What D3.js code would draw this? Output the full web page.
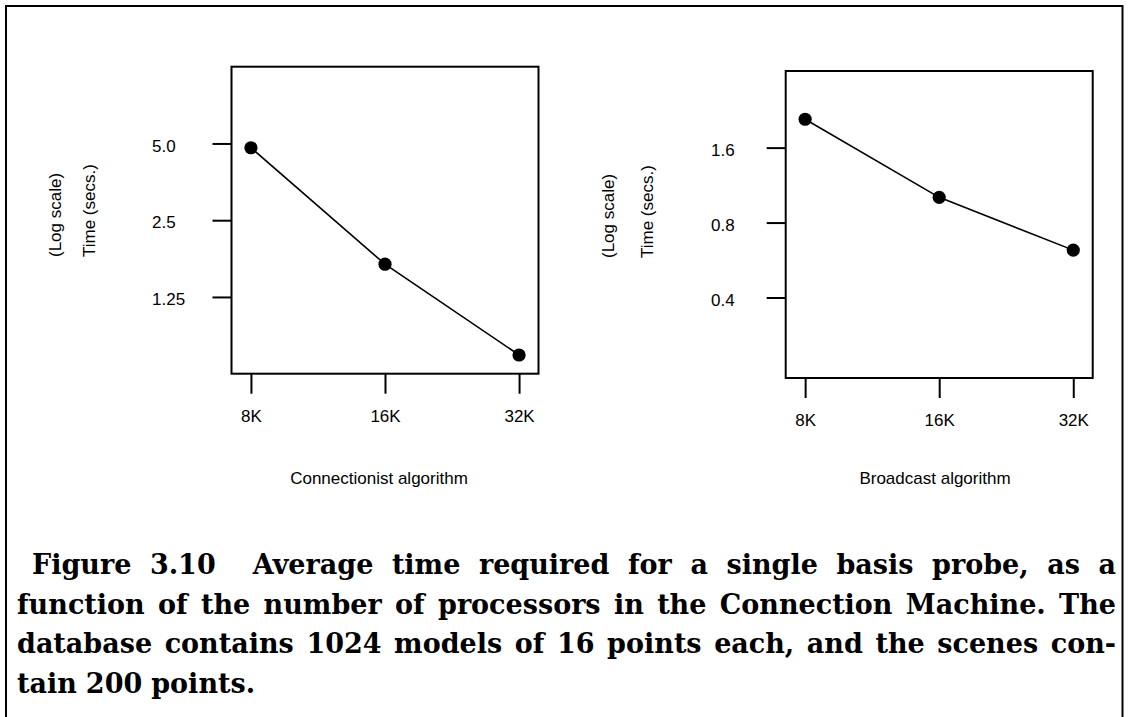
<!DOCTYPE html>
<html>
<head>
<meta charset="utf-8">
<script src="https://cdn.jsdelivr.net/npm/d3@7"></script>
<style>
  body { margin: 0; background: #fff; }
  svg { display: block; }
</style>
</head>
<body>
<script>
// processors (thousands) on the x axis
var procs = [8, 16, 32];
var procLabels = ["8K", "16K", "32K"];

// average time per basis probe, secs
var connTime = [4.81, 1.68, 0.74];
var bcastTime = [2.08, 1.01, 0.62];

// y tick values
var connTicks = [5.0, 2.5, 1.25];
var connTickLabels = ["5.0", "2.5", "1.25"];
var bcastTicks = [1.6, 0.8, 0.4];
var bcastTickLabels = ["1.6", "0.8", "0.4"];

var captionLines = [
  "Figure 3.10  Average time required for a single basis probe, as a",
  "function of the number of processors in the Connection Machine. The",
  "database contains 1024 models of 16 points each, and the scenes con-",
  "tain 200 points."
];

draw();
function draw(){
  var W = 1128, H = 717;
  var sans = "'Liberation Sans', Arial, Helvetica, sans-serif";
  var fs = "17px";

  var svg = d3.select("body").append("svg")
    .attr("width", W).attr("height", H);

  // outer frame (open at bottom)
  svg.append("path")
    .attr("d", "M6," + H + " V6 H1122.5 V" + H)
    .attr("fill", "none").attr("stroke", "#000").attr("stroke-width", 2);

  // panels
  drawPanel({
    x: 231.5, y: 66.7, size: 307,
    yDomain: [0.625, 10],
    times: connTime, ticks: connTicks, tickLabels: connTickLabels,
    labelX: 152, title1X: 60.5, title2X: 94.5, titleY: 257,
    xTitle: "Connectionist algorithm", xTitleX: 379
  });
  drawPanel({
    x: 785.7, y: 71, size: 307,
    yDomain: [0.19, 3.25],
    times: bcastTime, ticks: bcastTicks, tickLabels: bcastTickLabels,
    labelX: 711, title1X: 613.5, title2X: 652.5, titleY: 258,
    xTitle: "Broadcast algorithm", xTitleX: 935
  });

  function drawPanel(p){
    var g = svg.append("g");
    var pad = Math.pow(2, 0.145);
    var x = d3.scaleLog().base(2)
      .domain([procs[0] / pad, procs[procs.length - 1] * pad])
      .range([p.x, p.x + p.size]);
    var y = d3.scaleLog().base(2)
      .domain(p.yDomain)
      .range([p.y + p.size, p.y]);

    // y axis ticks
    var yAxis = d3.axisLeft(y)
      .tickValues(p.ticks)
      .tickFormat(function(d, i){ return p.tickLabels[i]; })
      .tickSize(19).tickSizeOuter(0);
    var ya = g.append("g")
      .attr("transform", "translate(" + p.x + ",0)")
      .call(yAxis);
    ya.select(".domain").remove();
    ya.selectAll("line").attr("stroke", "#000").attr("stroke-width", 2);
    ya.selectAll("text")
      .attr("text-anchor", "start")
      .attr("x", p.labelX - p.x)
      .attr("dy", "0.45em")
      .style("font-family", sans).style("font-size", fs).attr("fill", "#000");

    // x axis ticks
    var xAxis = d3.axisBottom(x)
      .tickValues(procs)
      .tickFormat(function(d, i){ return procLabels[i]; })
      .tickSize(20).tickSizeOuter(0);
    var xa = g.append("g")
      .attr("transform", "translate(0," + (p.y + p.size) + ")")
      .call(xAxis);
    xa.select(".domain").remove();
    xa.selectAll("line").attr("stroke", "#000").attr("stroke-width", 2);
    xa.selectAll("text")
      .attr("y", 48).attr("dy", 0)
      .style("font-family", sans).style("font-size", fs).attr("fill", "#000");

    // box
    g.append("rect")
      .attr("x", p.x).attr("y", p.y).attr("width", p.size).attr("height", p.size)
      .attr("fill", "none").attr("stroke", "#000").attr("stroke-width", 2);

    // line + points
    var pts = procs.map(function(d, i){ return [d, p.times[i]]; });
    var line = d3.line()
      .x(function(d){ return x(d[0]); })
      .y(function(d){ return y(d[1]); });
    g.append("path")
      .attr("d", line(pts))
      .attr("fill", "none").attr("stroke", "#000").attr("stroke-width", 1.6);
    g.selectAll("circle.pt").data(pts).enter().append("circle")
      .attr("class", "pt")
      .attr("cx", function(d){ return x(d[0]); })
      .attr("cy", function(d){ return y(d[1]); })
      .attr("r", 6.6).attr("fill", "#000");

    // y titles (rotated)
    [["(Log scale)", p.title1X], ["Time (secs.)", p.title2X]].forEach(function(t){
      g.append("text")
        .attr("transform", "translate(" + t[1] + "," + p.titleY + ") rotate(-90)")
        .attr("text-anchor", "start")
        .style("font-family", sans).style("font-size", fs)
        .attr("fill", "#000")
        .text(t[0]);
    });

    // x title
    g.append("text")
      .attr("x", p.xTitleX).attr("y", 484)
      .attr("text-anchor", "middle")
      .style("font-family", sans).style("font-size", fs)
      .attr("fill", "#000")
      .text(p.xTitle);
  }

  // caption, justified word by word
  var cap = svg.append("g")
    .style("font-family", "'DejaVu Serif', serif")
    .style("font-weight", "bold")
    .style("font-size", "27px")
    .attr("fill", "#000");
  var lineStart = [32, 17, 17, 17];
  var lineEnd = 1116;
  captionLines.forEach(function(line, li){
    var baseY = 574 + li * 39.5;
    var words = line.split(" ");
    var nodes = words.map(function(w){
      return cap.append("text").attr("y", baseY).text(w);
    });
    var widths = nodes.map(function(n){ return n.node().getComputedTextLength(); });
    var total = d3.sum(widths);
    var gap;
    if (li === captionLines.length - 1) {
      gap = 9;
    } else {
      gap = (lineEnd - lineStart[li] - total) / (words.length - 1);
    }
    var cx = lineStart[li];
    nodes.forEach(function(n, i){
      n.attr("x", cx);
      cx += widths[i] + gap;
    });
  });
}
</script>
</body>
</html>
